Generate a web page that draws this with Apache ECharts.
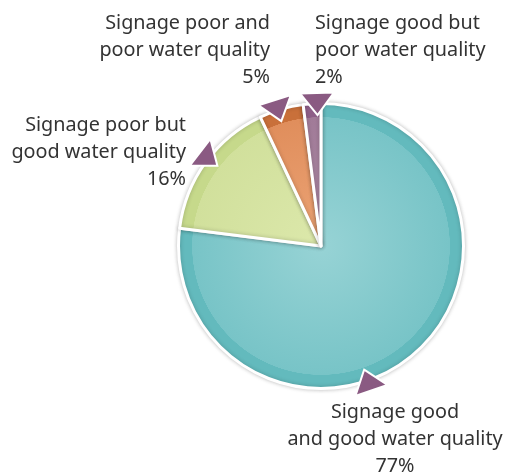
<!DOCTYPE html>
<html>
<head>
<meta charset="utf-8">
<script src="https://cdn.jsdelivr.net/npm/echarts@6/dist/echarts.min.js"></script>
<style>
  html, body { margin: 0; padding: 0; background: #fff; }
  #chart { width: 506px; height: 476px; }
</style>
</head>
<body>
<div id="chart"></div>
<script>
// Survey outcome shares (percent), drawn clockwise from 12 o'clock
const categories = [
  'Signage good\nand good water quality',
  'Signage poor but\ngood water quality',
  'Signage poor and\npoor water quality',
  'Signage good but\npoor water quality'
];
const shares = [77, 16, 5, 2];

// Ring (outer band) and body colours per slice
const ringColors  = ['#63babd', '#c6d98b', '#c9703a', '#8e5f88'];
const innerLight  = ['#97d3d5', '#dce8ab', '#eca476', '#ac89a5'];
const innerDark   = ['#78c4c7', '#d1e09c', '#e08e5c', '#a17b98'];

// Where along each slice the pointer arrow sits (0 = slice start, 1 = end)
const arrowAt = [0.58, 0.53, 0.42, 0.79];

const CX = 321, CY = 246, R = 142.5, RING = 13.5;

const chart = echarts.init(document.getElementById('chart'));

const labelPos = [
  { x: 395, y: 399, align: 'center' },
  { x: 186, y: 112, align: 'right' },
  { x: 270, y: 10,  align: 'right' },
  { x: 315, y: 10,  align: 'left' }
];

// Radial fill: shaded body with a darker band at the rim
function sliceFill(i) {
  const edge = (R - RING) / R;
  return {
    type: 'radial', x: CX, y: CY, r: R, global: true,
    colorStops: [
      { offset: 0, color: innerLight[i] },
      { offset: edge - 0.002, color: innerDark[i] },
      { offset: edge, color: ringColors[i] },
      { offset: 1, color: ringColors[i] }
    ]
  };
}

const data = categories.map((name, i) => ({
  name: name,
  value: shares[i],
  itemStyle: { color: sliceFill(i) }
}));

// Pointer arrows: tip inside the ring, base just outside the pie
function arrows() {
  const total = shares.reduce((a, b) => a + b, 0);
  let start = 0;
  const out = [];
  shares.forEach((v, i) => {
    const span = v / total * 360;
    const deg = start + span * arrowAt[i];
    start += span;
    const t = deg * Math.PI / 180;
    const pt = (r, off) => [
      CX + r * Math.sin(t) + off * Math.cos(t),
      CY - r * Math.cos(t) + off * Math.sin(t)
    ];
    out.push({
      type: 'polygon',
      z: 100,
      shape: { points: [pt(131, 0), pt(153, -17), pt(153, 17)] },
      style: { fill: '#8a5a82', stroke: '#ffffff', lineWidth: 2, lineJoin: 'miter' }
    });
  });
  return out;
}

chart.setOption({
  animation: false,
  backgroundColor: '#ffffff',
  series: [{
    type: 'pie',
    center: [CX, CY],
    radius: R,
    startAngle: 90,
    clockwise: true,
    silent: true,
    itemStyle: {
      borderColor: '#ffffff',
      borderWidth: 3,
      shadowBlur: 4,
      shadowColor: 'rgba(0,0,0,0.22)'
    },
    label: {
      show: true,
      position: 'outside',
      alignTo: 'none',
      overflow: 'none',
      formatter: p => p.name + '\n' + p.value + '%',
      fontFamily: 'Noto Sans',
      fontSize: 19.8,
      lineHeight: 27,
      color: '#333333'
    },
    labelLine: { show: false },
    labelLayout: function (p) {
      const L = labelPos[p.dataIndex];
      return { x: L.x, y: L.y, align: L.align, verticalAlign: 'top', hideOverlap: false, width: 300 };
    },
    data: data
  }],
  graphic: arrows()
});
</script>
</body>
</html>
